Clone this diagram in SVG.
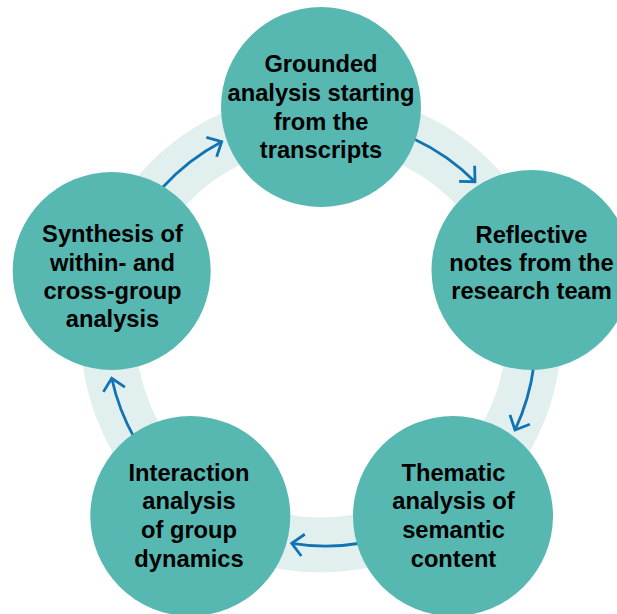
<svg xmlns="http://www.w3.org/2000/svg" width="617" height="614" viewBox="0 0 617 614">
<style>
.node circle{fill:#56b8b1;}
.node text{font-family:"Liberation Sans",Arial,Helvetica,sans-serif;font-weight:700;font-size:23.7px;fill:#000;text-anchor:middle;}
.conn{fill:none;stroke:#1273b4;stroke-width:2.8;marker-end:url(#ah);}
</style>
<defs>
<marker id="ah" markerUnits="userSpaceOnUse" markerWidth="30" markerHeight="30" viewBox="-15 -15 30 30" refX="0" refY="0" orient="auto" overflow="visible">
<path d="M -11.5 -11 L 0 0 L -11.5 11" fill="none" stroke="#1273b4" stroke-width="2.8"/>
</marker>
</defs>
<rect width="617" height="614" fill="#ffffff"/>
<circle id="ring" cx="321" cy="332" r="213" fill="none" stroke="#e1f0ef" stroke-width="55"/>
<g id="connectors">
<path class="conn" d="M 163 187 A 215 215 0 0 1 221.7 141.7"/>
<path class="conn" d="M 414 139 A 215 215 0 0 1 475 181.7"/>
<path class="conn" d="M 533.8 366 A 215 215 0 0 1 515 430"/>
<path class="conn" d="M 362 543 A 215 215 0 0 1 291.7 543.3"/>
<path class="conn" d="M 135 439 A 215 215 0 0 1 111.7 378.3"/>
</g>
<g id="node-grounded" class="node">
<circle cx="321" cy="107" r="100"/>
<text x="321" y="72">Grounded</text>
<text x="321" y="101">analysis starting</text>
<text x="321" y="129.5">from the</text>
<text x="321" y="158">transcripts</text>
</g>
<g id="node-reflective" class="node">
<circle cx="531.5" cy="270" r="100"/>
<text x="531.5" y="243.3">Reflective</text>
<text x="531.5" y="271">notes from the</text>
<text x="531.5" y="298.5">research team</text>
</g>
<g id="node-thematic" class="node">
<circle cx="453" cy="516" r="100"/>
<text x="453.5" y="480.7">Thematic</text>
<text x="453.5" y="509">analysis of</text>
<text x="453.5" y="537.7">semantic</text>
<text x="453.5" y="566.7">content</text>
</g>
<g id="node-interaction" class="node">
<circle cx="190.3" cy="516" r="100"/>
<text x="189" y="480.7">Interaction</text>
<text x="189" y="509">analysis</text>
<text x="189" y="537.7">of group</text>
<text x="189" y="566.7">dynamics</text>
</g>
<g id="node-synthesis" class="node">
<circle cx="111.7" cy="271" r="99"/>
<text x="112.5" y="241.7">Synthesis of</text>
<text x="112.5" y="270.7">within- and</text>
<text x="112.5" y="299">cross-group</text>
<text x="112.5" y="326.7">analysis</text>
</g>
</svg>
